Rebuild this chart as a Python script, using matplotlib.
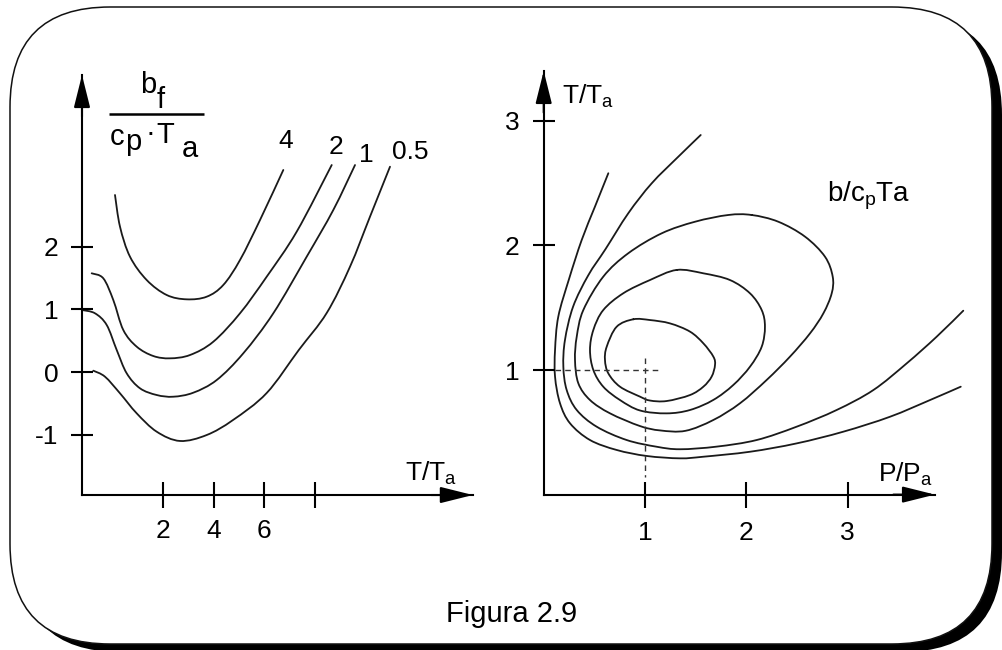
import matplotlib
matplotlib.use('Agg')
import matplotlib.pyplot as plt
from matplotlib.patches import FancyBboxPatch, PathPatch
from matplotlib.path import Path

plt.rcParams['font.family'] = ['Liberation Sans', 'DejaVu Sans']
plt.rcParams['mathtext.fontset'] = 'custom'
plt.rcParams['mathtext.rm'] = 'Liberation Sans'
plt.rcParams['mathtext.it'] = 'Liberation Sans:italic'
plt.rcParams['mathtext.bf'] = 'Liberation Sans:bold'

# ---------------- data: left diagram (b_f / cp.Ta vs T/Ta) ----------------
left_xticks = [2, 4, 6, 8]
left_xticklabels = ['2', '4', '6', '']
left_yticks = [-1, 0, 1, 2]
left_yticklabels = ['-1', '0', '1', '2']

curve_labels = ['4', '2', '1', '0.5']

x_c4 = [0.104, 0.302, 0.697, 1.357, 2.148, 2.938, 3.729, 4.385, 5.045, 5.836, 6.757]
y_c4 = [2.823, 2.318, 1.839, 1.467, 1.228, 1.159, 1.201, 1.388, 1.786, 2.424, 3.222]

x_c2 = [-0.817, -0.358, 0.037, 0.432, 0.962, 1.618, 2.278, 3.069, 3.990, 5.045, 6.100, 7.286, 8.670]
y_c2 = [1.574, 1.494, 1.148, 0.670, 0.404, 0.255, 0.218, 0.271, 0.483, 0.936, 1.520, 2.238, 3.301]

x_c1 = [-1.2, -0.686, -0.224, 0.172, 0.567, 1.092, 1.753, 2.409, 3.199, 4.124, 5.175, 6.361, 7.681, 8.733, 9.591]
y_c1 = [0.989, 0.936, 0.750, 0.351, -0.021, -0.260, -0.367, -0.394, -0.330, -0.128, 0.298, 0.936, 1.839, 2.584, 3.301]

x_c05 = [-0.753, -0.291, 0.302, 0.962, 1.753, 2.674, 3.729, 4.768, 6.100, 7.369, 8.472, 9.393, 10.183, 10.974]
y_c05 = [0.021, -0.075, -0.340, -0.659, -0.952, -1.100, -1.005, -0.766, -0.335, 0.351, 0.941, 1.679, 2.477, 3.274]

# ---------------- data: right diagram (T/Ta vs P/Pa) ----------------
right_xticks = [1, 2, 3]
right_yticks = [1, 2, 3]

x_inner = [0.885, 1.049, 1.247, 1.444, 1.576, 1.675, 1.691, 1.658, 1.576, 1.444, 1.214, 1.049, 0.951, 0.753, 0.638, 0.605, 0.622, 0.720, 0.885]
y_inner = [1.407, 1.401, 1.374, 1.308, 1.214, 1.107, 1.040, 0.947, 0.866, 0.799, 0.751, 0.755, 0.786, 0.866, 0.973, 1.080, 1.187, 1.347, 1.407]

x_mid = [1.313, 1.576, 1.839, 2.037, 2.152, 2.184, 2.152, 2.037, 1.872, 1.675, 1.444, 1.214, 0.951, 0.753, 0.588, 0.490, 0.457, 0.490, 0.588, 0.786, 1.049, 1.313]
y_mid = [1.803, 1.776, 1.722, 1.615, 1.481, 1.348, 1.187, 1.027, 0.880, 0.760, 0.679, 0.652, 0.675, 0.759, 0.866, 1.000, 1.161, 1.321, 1.481, 1.616, 1.722, 1.803]

x_big = [2.053, 2.316, 2.580, 2.777, 2.853, 2.843, 2.761, 2.629, 2.431, 2.201, 1.938, 1.675, 1.400, 1.150, 0.951, 0.655, 0.457, 0.342, 0.309, 0.326, 0.391, 0.588, 0.835, 1.165, 1.494, 1.822, 2.053]
y_big = [2.244, 2.190, 2.070, 1.909, 1.749, 1.615, 1.455, 1.294, 1.107, 0.920, 0.733, 0.599, 0.512, 0.515, 0.550, 0.652, 0.759, 0.893, 1.080, 1.267, 1.481, 1.749, 1.937, 2.097, 2.190, 2.244, 2.244]

x_open1 = [1.550, 1.329, 1.066, 0.835, 0.610, 0.440, 0.290, 0.210, 0.194, 0.227, 0.326, 0.523, 0.819, 1.116, 1.346, 1.707, 2.102, 2.497, 2.892, 3.254, 3.583, 3.879, 4.142]
y_open1 = [2.886, 2.712, 2.498, 2.258, 1.970, 1.760, 1.508, 1.241, 1.027, 0.839, 0.679, 0.545, 0.438, 0.384, 0.364, 0.385, 0.438, 0.545, 0.679, 0.839, 1.053, 1.267, 1.476]

x_open2 = [0.638, 0.506, 0.375, 0.250, 0.144, 0.112, 0.112, 0.161, 0.260, 0.457, 0.721, 1.017, 1.346, 1.576, 2.037, 2.497, 2.958, 3.419, 3.814, 4.117]
y_open2 = [2.579, 2.311, 2.043, 1.730, 1.428, 1.161, 0.946, 0.733, 0.572, 0.438, 0.358, 0.310, 0.291, 0.304, 0.344, 0.411, 0.505, 0.625, 0.759, 0.866]

ref_point = (1, 1)

# ---------------- figure ----------------
W, H, DPI = 1003, 650, 100
fig = plt.figure(figsize=(W / DPI, H / DPI), dpi=DPI)
fig.patch.set_facecolor('white')

# background frame with shadow (pixel coordinates)
bg = fig.add_axes([0, 0, 1, 1])
bg.set_xlim(0, W)
bg.set_ylim(H, 0)
bg.axis('off')
bg.add_patch(FancyBboxPatch((20, 15), 982, 637,
                            boxstyle='round,pad=0,rounding_size=100',
                            fc='black', ec='black', lw=0))
bg.add_patch(FancyBboxPatch((10, 7), 982, 637,
                            boxstyle='round,pad=0,rounding_size=100',
                            fc='white', ec='#111111', lw=1.1))


def make_panel(box, x0px, xs, y0px, ys):
    l, r, t, b = box
    ax = fig.add_axes([l / W, 1 - b / H, (r - l) / W, (b - t) / H])
    ax.set_xlim((l - x0px) / xs, (r - x0px) / xs)
    ax.set_ylim((y0px - b) / ys, (y0px - t) / ys)
    ax.patch.set_alpha(0)
    return ax


def setup_axes(ax, xo, yo, xtip, ytip, xt, xtl, yt, ytl, xlen, ylen, xpad, ypad, fs):
    for s in ['top', 'right']:
        ax.spines[s].set_visible(False)
    ax.spines['left'].set_position(('data', xo))
    ax.spines['left'].set_bounds(yo, ytip)
    ax.spines['bottom'].set_position(('data', yo))
    ax.spines['bottom'].set_bounds(xo, xtip)
    for s in ['left', 'bottom']:
        ax.spines[s].set_linewidth(1.5)
        ax.spines[s].set_color('black')
    ax.set_xticks(xt, xtl)
    ax.set_yticks(yt, ytl)
    ax.tick_params(axis='x', direction='inout', length=xlen, width=1.5, pad=xpad, labelsize=fs)
    ax.tick_params(axis='y', direction='inout', length=ylen, width=1.5, pad=ypad, labelsize=fs)
    ap = dict(arrowstyle='-|>,head_length=2.0,head_width=0.5', mutation_scale=10,
              lw=1.5, color='black', shrinkA=0, shrinkB=0)
    ax.annotate('', xy=(xo, ytip), xytext=(0, -30), textcoords='offset points', arrowprops=ap)
    ax.annotate('', xy=(xtip, yo), xytext=(-30, 0), textcoords='offset points', arrowprops=ap)


def smooth_curve(ax, xs, ys, closed=False):
    """Draw a smooth Bezier path (Catmull-Rom style) passing through the given points."""
    pts = list(zip(xs, ys))
    if closed:
        pts = pts[:-1]
    n = len(pts)

    def P(i):
        if closed:
            return pts[i % n]
        return pts[min(max(i, 0), n - 1)]

    verts = [pts[0]]
    codes = [Path.MOVETO]
    segs = n if closed else n - 1
    for i in range(segs):
        p0, p1, p2, p3 = P(i - 1), P(i), P(i + 1), P(i + 2)
        c1 = (p1[0] + (p2[0] - p0[0]) / 6.0, p1[1] + (p2[1] - p0[1]) / 6.0)
        c2 = (p2[0] - (p3[0] - p1[0]) / 6.0, p2[1] - (p3[1] - p1[1]) / 6.0)
        verts += [c1, c2, p2]
        codes += [Path.CURVE4] * 3
    ax.add_patch(PathPatch(Path(verts, codes), fill=False, edgecolor='#1a1a1a',
                           lw=1.3, joinstyle='round', capstyle='round'))


# ---------------- left panel ----------------
axL = make_panel((30, 500, 50, 580), 82 + 1.2 * 25.3, 25.3, 372, 62.7)
setup_axes(axL, -1.2, -1.962, 14.25, 4.737,
           left_xticks, left_xticklabels, left_yticks, left_yticklabels,
           18.7, 15.8, 8.0, 9.0, 19)

for xs_, ys_ in [(x_c4, y_c4), (x_c2, y_c2), (x_c1, y_c1), (x_c05, y_c05)]:
    smooth_curve(axL, xs_, ys_)

label_pos = [(6.855, 3.69), (8.84, 3.59), (10.05, 3.46), (11.76, 3.51)]
for lab, (lx, ly) in zip(curve_labels, label_pos):
    axL.text(lx, ly, lab, fontsize=19, ha='center', va='center')

axL.text(11.55, -1.73, r'T/T$_\mathrm{a}$', fontsize=19, ha='left', va='baseline')

# fraction b_f / (c_p . T_a) with full-size lowered subscripts
FR = dict(fontsize=21, va='baseline')
axL.text(1.093, 4.445, 'b', ha='left', **FR)
axL.text(1.753, 4.206, 'f', ha='left', **FR)
axL.plot([-0.121, 3.622], [4.118, 4.118], color='black', lw=1.8, solid_capstyle='butt')
axL.text(-0.093, 3.620, 'c', ha='left', **FR)
axL.text(0.52, 3.534, 'p', ha='left', **FR)
axL.text(1.515, 3.685, '·', ha='center', **FR)
axL.text(1.72, 3.648, 'T', ha='left', **FR)
axL.text(2.741, 3.434, 'a', ha='left', **FR)

# ---------------- right panel ----------------
axR = make_panel((500, 990, 40, 580), 543.7, 101.3, 494.6, 124.6)
setup_axes(axR, 0, 0, 3.863, 3.40,
           right_xticks, [str(v) for v in right_xticks],
           right_yticks, [str(v) for v in right_yticks],
           18.7, 15.8, 9.5, 9.5, 19)

for xs_, ys_, cl in [(x_inner, y_inner, True), (x_mid, y_mid, True), (x_big, y_big, True),
                     (x_open1, y_open1, False), (x_open2, y_open2, False)]:
    smooth_curve(axR, xs_, ys_, closed=cl)

DASH = dict(color='#333333', lw=1.0, linestyle=(0, (4, 3)))
axR.plot([0.11, ref_point[0] + 0.13], [ref_point[1], ref_point[1]], **DASH)
axR.plot([ref_point[0], ref_point[0]], [ref_point[1] + 0.094, 0.14], **DASH)

axR.text(0.178, 3.14, r'T/T$_\mathrm{a}$', fontsize=19, ha='left', va='baseline')
axR.text(3.303, 0.104, r'P/P$_\mathrm{a}$', fontsize=19, ha='left', va='baseline')
axR.text(2.794, 2.351, r'b/c$_\mathrm{p}$Ta', fontsize=20, ha='left', va='baseline')

fig.text(511.7 / W, 1 - 622.3 / H, 'Figura 2.9', fontsize=21, ha='center', va='baseline')

fig.savefig('out.png', dpi=DPI)
